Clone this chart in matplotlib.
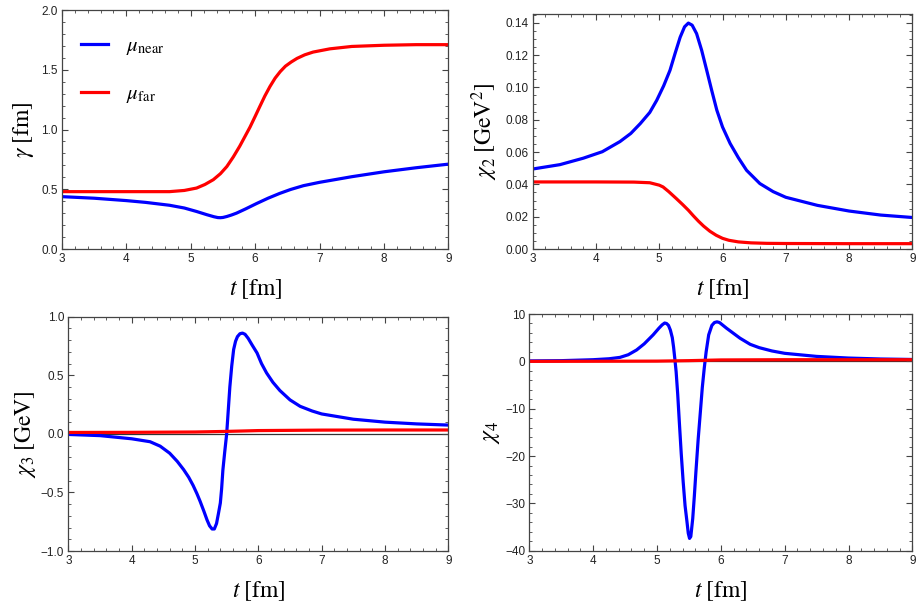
import numpy as np
import matplotlib.pyplot as plt
from matplotlib.ticker import MultipleLocator, FuncFormatter

plt.rcParams['mathtext.fontset'] = 'stix'
plt.rcParams['font.family'] = ['Liberation Sans', 'DejaVu Sans']

# gamma [fm]
t_g_near = [3.0, 3.5, 4.0, 4.3, 4.67, 4.9, 5.09, 5.25, 5.36, 5.42, 5.46, 5.5, 5.56, 5.63, 5.71,
            5.85, 6.02, 6.2, 6.38, 6.55, 6.75, 7.0, 7.16, 7.5, 8.0, 8.5, 9.0]
g_near = [0.438, 0.425, 0.405, 0.39, 0.366, 0.343, 0.314, 0.287, 0.27, 0.263, 0.262, 0.264,
          0.272, 0.284, 0.3, 0.335, 0.38, 0.425, 0.465, 0.498, 0.53, 0.558, 0.573, 0.605,
          0.646, 0.68, 0.71]
t_g_far = [3.0, 4.0, 4.67, 4.9, 5.09, 5.22, 5.35, 5.46, 5.56, 5.66, 5.76, 5.84, 5.92, 6.0, 6.07,
           6.15, 6.23, 6.31, 6.39, 6.47, 6.56, 6.65, 6.77, 6.9, 7.16, 7.5, 8.0, 8.5, 9.0]
g_far = [0.48, 0.48, 0.48, 0.49, 0.51, 0.54, 0.58, 0.63, 0.69, 0.77, 0.86, 0.94, 1.02, 1.11,
         1.19, 1.28, 1.36, 1.43, 1.485, 1.53, 1.565, 1.595, 1.625, 1.648, 1.675, 1.695, 1.705,
         1.71, 1.71]

# chi2 [GeV^2]
t_c2_near = [3.0, 3.43, 3.8, 4.1, 4.38, 4.55, 4.7, 4.85, 4.96, 5.07, 5.17, 5.25, 5.33, 5.4,
             5.46, 5.52, 5.59, 5.67, 5.75, 5.83, 5.91, 6.0, 6.12, 6.25, 6.38, 6.59, 6.8, 7.0,
             7.5, 8.0, 8.5, 9.0]
c2_near = [0.0495, 0.0522, 0.0562, 0.0602, 0.0665, 0.0715, 0.0776, 0.0845, 0.092, 0.101, 0.1106,
           0.121, 0.131, 0.1375, 0.1398, 0.1385, 0.1333, 0.123, 0.1106, 0.098, 0.0859, 0.0755,
           0.0653, 0.0565, 0.0487, 0.0405, 0.0355, 0.032, 0.027, 0.0235, 0.021, 0.0195]
t_c2_far = [3.0, 4.0, 4.6, 4.85, 5.0, 5.06, 5.15, 5.27, 5.37, 5.46, 5.54, 5.62, 5.7, 5.8, 5.9,
            6.0, 6.1, 6.25, 6.45, 6.7, 7.0, 8.0, 9.0]
c2_far = [0.0415, 0.0415, 0.0414, 0.041, 0.0395, 0.0384, 0.0355, 0.0312, 0.0275, 0.024, 0.0205,
          0.0172, 0.0142, 0.011, 0.0085, 0.0066, 0.0054, 0.0044, 0.0038, 0.0035, 0.0034,
          0.0033, 0.0033]

# chi3 [GeV]
t_c3_near = [3.0, 3.5, 4.0, 4.29, 4.45, 4.6, 4.72, 4.82, 4.9, 4.97, 5.03, 5.08, 5.14, 5.19,
             5.23, 5.27, 5.305, 5.34, 5.37, 5.40, 5.42, 5.44, 5.47, 5.50, 5.525, 5.55, 5.58,
             5.61, 5.64, 5.67, 5.71, 5.75, 5.79, 5.84, 5.9, 5.98, 6.05, 6.13, 6.23, 6.34, 6.5,
             6.66, 6.85, 7.0, 7.5, 8.0, 8.5, 9.0]
c3_near = [-0.005, -0.015, -0.042, -0.067, -0.105, -0.165, -0.235, -0.305, -0.37, -0.44, -0.51,
           -0.575, -0.66, -0.735, -0.785, -0.812, -0.812, -0.765, -0.68, -0.59, -0.47, -0.31,
           -0.15, 0.0, 0.2, 0.40, 0.58, 0.72, 0.79, 0.83, 0.855, 0.86, 0.85, 0.815, 0.76, 0.69,
           0.60, 0.52, 0.44, 0.37, 0.29, 0.235, 0.195, 0.17, 0.125, 0.10, 0.085, 0.075]
t_c3_far = [3.0, 4.0, 5.0, 5.5, 6.0, 7.0, 8.0, 9.0]
c3_far = [0.012, 0.013, 0.016, 0.021, 0.028, 0.032, 0.033, 0.033]

# chi4
t_c4_near = [3.0, 3.5, 4.0, 4.25, 4.42, 4.55, 4.68, 4.8, 4.94, 5.03, 5.08, 5.12, 5.15, 5.18,
             5.21, 5.24, 5.26, 5.28, 5.30, 5.325, 5.35, 5.38, 5.41, 5.44, 5.47, 5.49, 5.51,
             5.53, 5.56, 5.585, 5.61, 5.645, 5.68, 5.71, 5.74, 5.77, 5.81, 5.86, 5.9, 5.94,
             5.98, 6.09, 6.2, 6.3, 6.46, 6.6, 6.8, 7.0, 7.5, 8.0, 8.5, 9.0]
c4_near = [0.1, 0.15, 0.35, 0.55, 0.84, 1.4, 2.4, 3.7, 5.6, 7.0, 7.7, 8.1, 8.0, 7.6, 6.6, 5.0,
           3.0, 0.5, -2.2, -7.0, -12.8, -19.5, -25.4, -30.5, -33.9, -36.3, -37.4, -37.0, -33.2,
           -28.5, -23.3, -16.5, -10.6, -5.5, -1.5, 2.0, 5.6, 7.6, 8.2, 8.35, 8.2, 7.0, 5.9,
           4.9, 3.6, 2.9, 2.2, 1.7, 1.05, 0.7, 0.5, 0.4]
t_c4_far = [3.0, 4.0, 5.0, 5.5, 6.0, 7.0, 8.0, 9.0]
c4_far = [0.0, 0.02, 0.05, 0.15, 0.3, 0.35, 0.35, 0.35]

fig = plt.figure(figsize=(9.21, 6.10), dpi=100)
ax1 = fig.add_axes([0.0673, 0.5918, 0.4195, 0.3918])
ax2 = fig.add_axes([0.5784, 0.5918, 0.4122, 0.3852])
ax3 = fig.add_axes([0.0742, 0.0967, 0.4126, 0.3841])
ax4 = fig.add_axes([0.5747, 0.0972, 0.4159, 0.3880])

frame = '#444444'
lw = 2.3


def style(ax, ymaj, ymin, fmt):
    ax.set_xlim(3, 9)
    ax.xaxis.set_major_locator(MultipleLocator(1))
    ax.xaxis.set_minor_locator(MultipleLocator(0.2))
    ax.yaxis.set_major_locator(MultipleLocator(ymaj))
    ax.yaxis.set_minor_locator(MultipleLocator(ymin))
    ax.yaxis.set_major_formatter(FuncFormatter(
        lambda v, p: (fmt % (0 if abs(v) < 1e-9 else v)).replace('-', '\u2212')))
    ax.tick_params(which='both', direction='in', top=True, right=True, color=frame,
                   labelsize=8.5, labelcolor='#222222', pad=3)
    ax.tick_params(which='major', length=4.5, width=0.8)
    ax.tick_params(which='minor', length=2.5, width=0.6)
    for s in ax.spines.values():
        s.set_color(frame)
        s.set_linewidth(0.9)
    ax.set_xlabel(r'$t\;[\mathrm{fm}]$', fontsize=17, labelpad=9)


ax1.plot(t_g_near, g_near, color='blue', lw=lw, label=r'$\mu_{\mathrm{near}}$')
ax1.plot(t_g_far, g_far, color='red', lw=lw, label=r'$\mu_{\mathrm{far}}$')
ax1.set_ylim(0, 2)
style(ax1, 0.5, 0.1, '%.1f')
ax1.set_ylabel(r'$\gamma\;[\mathrm{fm}]$', fontsize=17, labelpad=4)
ax1.legend(loc='upper left', frameon=False, fontsize=15, handlelength=1.3,
           handletextpad=0.85, labelspacing=1.3, borderaxespad=0.5,
           bbox_to_anchor=(0.0, 0.97))

ax2.plot(t_c2_near, c2_near, color='blue', lw=lw)
ax2.plot(t_c2_far, c2_far, color='red', lw=lw)
ax2.set_ylim(0, 0.1454)
style(ax2, 0.02, 0.005, '%.2f')
ax2.set_ylabel(r'$\chi_2\;[\mathrm{GeV}^2]$', fontsize=17, labelpad=4)

ax3.axhline(0, color='#333333', lw=0.9, zorder=1)
ax3.plot(t_c3_near, c3_near, color='blue', lw=lw)
ax3.plot(t_c3_far, c3_far, color='red', lw=lw)
ax3.set_ylim(-1, 1)
style(ax3, 0.5, 0.1, '%.1f')
ax3.set_ylabel(r'$\chi_3\;[\mathrm{GeV}]$', fontsize=17, labelpad=2)

ax4.axhline(0, color='#333333', lw=0.9, zorder=1)
ax4.plot(t_c4_near, c4_near, color='blue', lw=lw)
ax4.plot(t_c4_far, c4_far, color='red', lw=lw)
ax4.set_ylim(-40, 10)
style(ax4, 10, 2, '%d')
ax4.set_ylabel(r'$\chi_4$', fontsize=17, labelpad=2)

fig.savefig('out.png', dpi=100)
